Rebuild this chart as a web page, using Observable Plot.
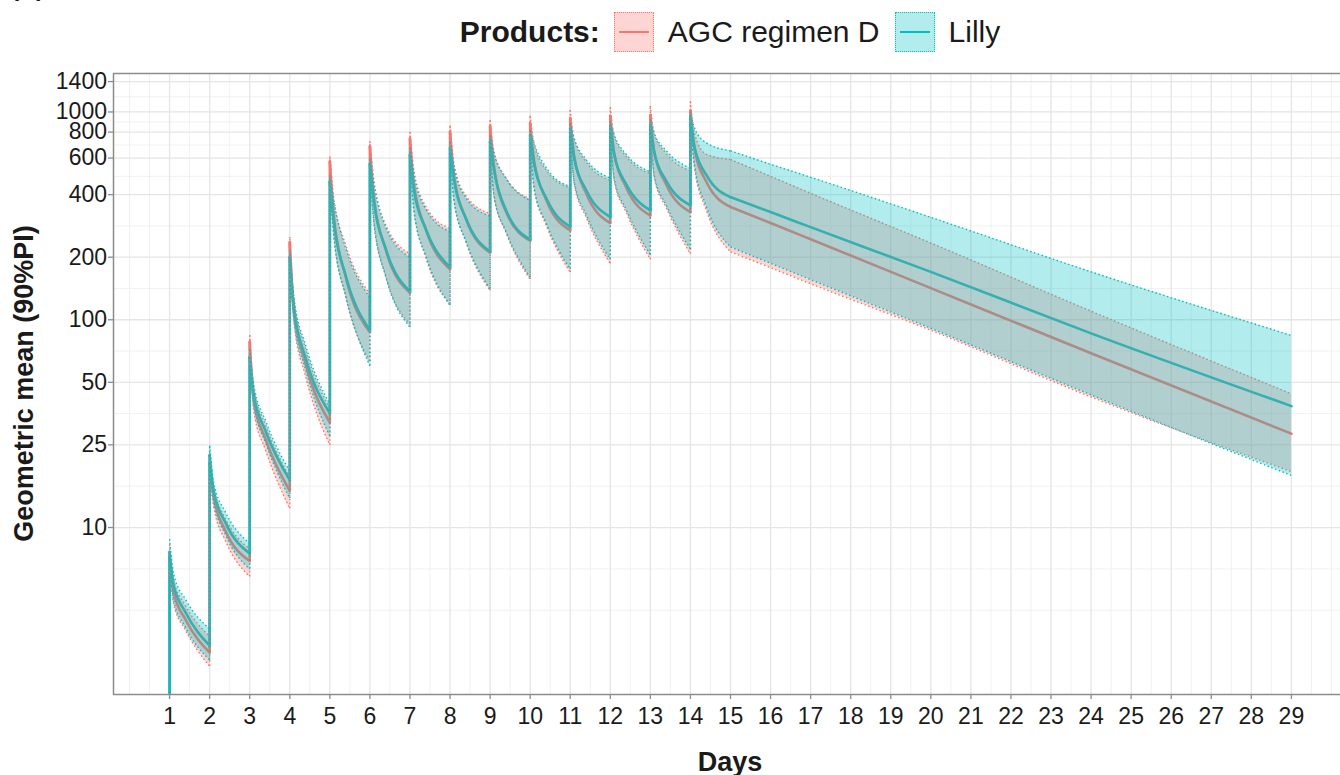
<!DOCTYPE html>
<html>
<head>
<meta charset="utf-8">
<script src="https://cdn.jsdelivr.net/npm/d3@7"></script>
<script src="https://cdn.jsdelivr.net/npm/@observablehq/plot@0.6"></script>
<style>
  html, body { margin: 0; padding: 0; background: #fff; }
  body { width: 1340px; height: 775px; overflow: hidden; position: relative;
         font-family: "Liberation Sans", Arial, Helvetica, sans-serif; color: #1a1a1a; }
  #tag { position: absolute; left: 11px; top: -26px; font-size: 24px; font-weight: bold; line-height: 28px; }
  #legend { position: absolute; left: 0; top: 0; width: 1460px; height: 64px; display: flex;
            justify-content: center; align-items: center; font-size: 30px; white-space: nowrap; }
  #legend .title { font-weight: bold; margin-right: 14px; }
  #legend .key { position: relative; width: 40px; height: 40px; box-sizing: border-box; margin-right: 14px; }
  #legend .key .ln { position: absolute; left: 4px; right: 4px; top: 50%; height: 2.5px; margin-top: -1.25px; }
  #legend .lab { margin-right: 15px; }
  #chart { position: absolute; left: 0; top: 62px; width: 1360px; height: 713px; }
  #chart svg { max-width: none !important; width: 1360px !important; height: 713px !important; display: block; }
  #chart g[aria-label="x-axis tick"], #chart g[aria-label="y-axis tick"] { stroke: #8c8c8c; stroke-width: 1.3px; }
  .axtitle { position: absolute; font-weight: bold; font-size: 27px; line-height: 27px; text-align: center; white-space: nowrap; }
</style>
</head>
<body>
<div id="tag">(C)</div>
<div id="legend"></div>
<div id="chart"></div>
<div class="axtitle" id="xtitle" style="left:0; width:1460px; top:749px;">Days</div>
<div class="axtitle" id="ytitle" style="left:-276px; top:370px; width:600px; height:27px; transform:rotate(-90deg);">Geometric mean (90%PI)</div>
<script>
// ---------------- data ----------------
const seriesNames = ["AGC regimen D", "Lilly"];
const seriesColors = ["#F8766D", "#00BFC4"];
const dayTicks = [1,2,3,4,5,6,7,8,9,10,11,12,13,14,15,16,17,18,19,20,21,22,23,24,25,26,27,28,29];
const yTicks = [10, 25, 50, 100, 200, 400, 600, 800, 1000, 1400];

const doseDays = [1,2,3,4,5,6,7,8,9,10,11,12,13,14];
// sampling times after each dose (days): peak, +0.1, +0.4, trough / day after the dose
const sampleOffsets = [0, 0.1, 0.4, 1];
// elimination phase after the last dose interval
const tailDays = [16, 17, 20, 24, 29];

// AGC regimen D
const agcMean = [
  [7.2, 4.9, 3.6, 2.5], [20.5, 14.0, 9.6, 6.9], [78, 41, 26.5, 15.0], [235, 112, 61, 32],
  [575, 315, 160, 87], [680, 390, 216, 135], [740, 445, 270, 175], [800, 495, 305, 210],
  [850, 545, 330, 240], [880, 580, 378, 269], [930, 610, 405, 292], [950, 630, 432, 317],
  [960, 640, 445, 330], [1010, 670, 460, 349]
];
const agcLo = [
  [6.2, 4.3, 3.2, 2.15], [18.0, 12.6, 8.6, 5.8], [70, 36.5, 23.5, 12.3], [215, 98, 53, 24.9],
  [530, 258, 128, 63], [620, 300, 162, 95], [680, 340, 198, 119], [740, 380, 236, 138],
  [790, 395, 262, 156], [820, 425, 285, 169], [860, 450, 310, 186], [880, 465, 328, 195],
  [890, 480, 345, 207], [940, 540, 335, 212]
];
const agcHi = [
  [8.3, 5.6, 4.2, 3.0], [23.0, 15.5, 11.0, 7.9], [84, 47, 31, 17.5], [250, 128, 72, 37.5],
  [610, 385, 228, 133], [720, 470, 285, 208], [800, 520, 350, 274], [860, 560, 395, 324],
  [910, 640, 480, 382], [960, 700, 525, 430], [1020, 740, 575, 468], [1050, 765, 610, 505],
  [1070, 780, 630, 520], [1120, 790, 625, 590]
];
const agcMeanTail = [292, 244, 142, 69, 28.3];
const agcLoTail = [178, 149, 89, 42.5, 18.6];
const agcHiTail = [490, 406, 234, 110, 44];

// Lilly
const lillyMean = [
  [7.6, 5.3, 3.9, 2.7], [22.2, 15.0, 10.5, 7.5], [66, 44, 29, 16.9], [200, 115, 65, 35.5],
  [460, 295, 162, 89], [560, 370, 218, 137], [620, 420, 272, 179], [670, 470, 306, 213],
  [720, 524, 336, 243], [770, 560, 385, 280], [830, 596, 420, 312], [850, 620, 448, 336],
  [860, 635, 465, 355], [940, 680, 496, 389]
];
const lillyLo = [
  [6.6, 4.5, 3.3, 2.3], [19.5, 13.4, 9.2, 6.3], [60, 39, 25.5, 13.8], [185, 102, 57, 27.5],
  [420, 250, 130, 60], [510, 292, 160, 92], [570, 330, 202, 117], [620, 370, 238, 141],
  [670, 390, 265, 160], [720, 430, 292, 175], [770, 460, 320, 195], [790, 475, 338, 205],
  [800, 490, 355, 218], [870, 560, 350, 224]
];
const lillyHi = [
  [8.8, 6.0, 4.5, 3.25], [24.8, 16.5, 11.8, 8.4], [72, 49, 32.5, 18.7], [215, 130, 75, 39.3],
  [495, 370, 220, 128], [600, 450, 278, 200], [670, 500, 340, 265], [720, 545, 385, 315],
  [770, 630, 478, 375], [820, 705, 540, 437], [880, 744, 590, 480], [900, 775, 625, 515],
  [920, 790, 650, 535], [1000, 840, 710, 650]
];
const lillyMeanTail = [330, 279, 170, 86, 38.4];
const lillyLoTail = [187, 156, 91, 43.5, 17.8];
const lillyHiTail = [560, 485, 311, 170, 84];

// ---------------- build tables ----------------
function build(name, mean, lo, hi, meanTail, loTail, hiTail) {
  const rows = [], jumps = [];
  doseDays.forEach((d, i) => {
    sampleOffsets.forEach((o, k) => rows.push({series: name, seg: i, t: d + o, mean: mean[i][k], lo: lo[i][k], hi: hi[i][k]}));
    if (i > 0) jumps.push({series: name, t: d,
      mean0: mean[i-1][3], mean1: mean[i][0], lo0: lo[i-1][3], lo1: lo[i][0], hi0: hi[i-1][3], hi1: hi[i][0]});
  });
  // elimination segment starts where the last interval ends
  const last = doseDays.length - 1;
  const tailSeg = doseDays.length;
  rows.push({series: name, seg: tailSeg, t: doseDays[last] + 1, mean: mean[last][3], lo: lo[last][3], hi: hi[last][3]});
  tailDays.forEach((t, j) => rows.push({series: name, seg: tailSeg, t, mean: meanTail[j], lo: loTail[j], hi: hiTail[j]}));
  const first = [{series: name, t: doseDays[0], peak: mean[0][0]}];
  return {rows, jumps, first};
}
const agc = build(seriesNames[0], agcMean, agcLo, agcHi, agcMeanTail, agcLoTail, agcHiTail);
const lilly = build(seriesNames[1], lillyMean, lillyLo, lillyHi, lillyMeanTail, lillyLoTail, lillyHiTail);

// ggplot-like 5% expansion
const allVals = [...agc.rows, ...lilly.rows].flatMap(r => [r.mean, r.lo, r.hi]);
const lmin = Math.log10(d3.min(allVals)), lmax = Math.log10(d3.max(allVals));
const lpad = (lmax - lmin) * 0.05;
const yDomain = [Math.pow(10, lmin - lpad), Math.pow(10, lmax + lpad)];
const tmin = d3.min(dayTicks), tmax = d3.max(dayTicks), tpad = (tmax - tmin) * 0.05;
const xDomain = [tmin - tpad, tmax + tpad];

// minor grid (ggplot regular_minor_breaks)
function minorBreaks(b, mid, ext) {
  const e = [ext(b[0], b[1], -1), ...b, ext(b[b.length-2], b[b.length-1], 1)];
  const out = [];
  for (let i = 0; i < e.length - 1; i++) out.push(mid(e[i], e[i+1]));
  out.push(e[0]);
  return out;
}
const xMinor = minorBreaks(dayTicks, (a, b) => (a + b) / 2,
  (a, b, s) => s < 0 ? a - (b - a) : b + (b - a)).concat([tmin - 1, tmax + 1])
  .filter(v => v >= xDomain[0] && v <= xDomain[1]);
const yRatio = yTicks[1] / yTicks[0];
const yMinor = minorBreaks(yTicks, (a, b) => Math.sqrt(a * b),
  (a, b, s) => s < 0 ? a / yRatio : b * yRatio)
  .filter(v => v >= yDomain[0] && v <= yDomain[1]);

// ---------------- marks ----------------
const LW = 2.6;
function meanMarks(s, color) {
  return [
    Plot.lineY(s.rows, {x: "t", y: "mean", z: "seg", curve: "monotone-x", stroke: color, strokeWidth: LW}),
    Plot.ruleX(s.jumps, {x: "t", y1: "mean0", y2: "mean1", stroke: color, strokeWidth: LW, strokeLinecap: "round"}),
    // pre-dose concentration is zero: the first rise starts at the bottom of the panel
    Plot.ruleX(s.first, {x: "t", y1: "peak", y2: () => yDomain[0], stroke: color, strokeWidth: LW, strokeLinecap: "round"})
  ];
}
function ribbonMarks(s, color) {
  const dot = {stroke: color, strokeWidth: 1.4, strokeDasharray: "1.5 2.5", strokeLinecap: "butt"};
  return [
    Plot.areaY(s.rows, {x: "t", y1: "lo", y2: "hi", z: "seg", curve: "monotone-x", fill: color, fillOpacity: 0.3}),
    Plot.lineY(s.rows, {x: "t", y: "lo", z: "seg", curve: "monotone-x", ...dot}),
    Plot.lineY(s.rows, {x: "t", y: "hi", z: "seg", curve: "monotone-x", ...dot}),
    Plot.ruleX(s.jumps, {x: "t", y1: "lo0", y2: "lo1", ...dot}),
    Plot.ruleX(s.jumps, {x: "t", y1: "hi0", y2: "hi1", ...dot})
  ];
}

const chart = Plot.plot({
  width: 1360, height: 713,
  marginLeft: 113, marginRight: 13, marginTop: 11, marginBottom: 81,
  style: {fontFamily: "'Liberation Sans', Arial, Helvetica, sans-serif", fontSize: "23px", color: "#1a1a1a", background: "#fff", overflow: "visible", maxWidth: "none"},
  x: {domain: xDomain},
  y: {type: "log", domain: yDomain},
  marks: [
    Plot.ruleX(xMinor, {stroke: "#eeeeee", strokeWidth: 0.8}),
    Plot.ruleY(yMinor, {stroke: "#eeeeee", strokeWidth: 0.8}),
    Plot.ruleX(dayTicks, {stroke: "#e5e5e5", strokeWidth: 1.3}),
    Plot.ruleY(yTicks, {stroke: "#e5e5e5", strokeWidth: 1.3}),
    ...meanMarks(agc, seriesColors[0]),
    ...meanMarks(lilly, seriesColors[1]),
    ...ribbonMarks(agc, seriesColors[0]),
    ...ribbonMarks(lilly, seriesColors[1]),
    Plot.frame({stroke: "#8c8c8c", strokeWidth: 1.5}),
    Plot.axisX(dayTicks, {tickSize: 5, tickPadding: 1, label: null, tickFormat: () => ""}),
    Plot.axisY(yTicks, {tickSize: 5, tickPadding: 1, label: null, tickFormat: () => ""}),
    Plot.text(dayTicks, {x: d => d, text: d => String(d), frameAnchor: "bottom", lineAnchor: "top", dy: 13, fontSize: 23, fill: "#1a1a1a"}),
    Plot.text(yTicks, {y: d => d, text: d => String(d), frameAnchor: "left", textAnchor: "end", dx: -6.5, fontSize: 23, fill: "#1a1a1a"})
  ]
});
document.getElementById("chart").appendChild(chart);

// ---------------- legend ----------------
const legend = document.getElementById("legend");
const t = document.createElement("span"); t.className = "title"; t.textContent = "Products:"; legend.appendChild(t);
seriesNames.forEach((name, i) => {
  const c = seriesColors[i];
  const k = document.createElement("span"); k.className = "key";
  const rgb = d3.rgb(c);
  k.style.background = `rgba(${rgb.r},${rgb.g},${rgb.b},0.3)`;
  k.style.border = `1.5px dotted ${c}`;
  const ln = document.createElement("span"); ln.className = "ln"; ln.style.background = c; k.appendChild(ln);
  legend.appendChild(k);
  const lab = document.createElement("span"); lab.className = "lab"; lab.textContent = name;
  if (i === seriesNames.length - 1) lab.style.marginRight = "0";
  legend.appendChild(lab);
});
</script>
</body>
</html>
